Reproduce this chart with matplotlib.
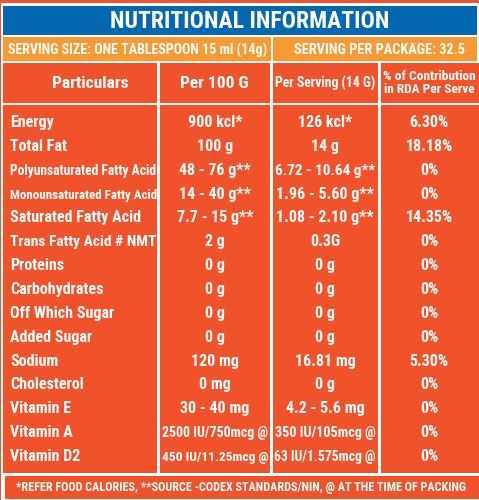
import matplotlib.pyplot as plt
from matplotlib.patches import Rectangle

RED = '#F0532B'
BLUE = '#0468B1'
ORANGE = '#F79A34'

title = 'NUTRITIONAL INFORMATION'
serving_size = 'SERVING SIZE: ONE TABLESPOON 15 ml (14g)'
serving_pack = 'SERVING PER PACKAGE: 32.5'
headers = ['Particulars', 'Per 100 G', 'Per Serving (14 G)', '% of Contribution\nin RDA Per Serve']

particulars = ['Energy', 'Total Fat', 'Polyunsaturated Fatty Acid', 'Monounsaturated Fatty Acid',
               'Saturated Fatty Acid', 'Trans Fatty Acid # NMT', 'Proteins', 'Carbohydrates',
               'Off Which Sugar', 'Added Sugar', 'Sodium', 'Cholesterol', 'Vitamin E',
               'Vitamin A', 'Vitamin D2']
per_100g = ['900 kcl*', '100 g', '48 - 76 g**', '14 - 40 g**', '7.7 - 15 g**', '2 g', '0 g', '0 g',
            '0 g', '0 g', '120 mg', '0 mg', '30 - 40 mg', '2500 IU/750mcg @', '450 IU/11.25mcg @']
per_serving = ['126 kcl*', '14 g', '6.72 - 10.64 g**', '1.96 - 5.60 g**', '1.08 - 2.10 g**', '0.3G',
               '0 g', '0 g', '0 g', '0 g', '16.81 mg', '0 g', '4.2 - 5.6 mg', '350 IU/105mcg @',
               '63 IU/1.575mcg @']
rda = ['6.30%', '18.18%', '0%', '0%', '14.35%', '0%', '0%', '0%', '0%', '0%', '5.30%', '0%', '0%',
       '0%', '0%']
footer = '*REFER FOOD CALORIES, **SOURCE -CODEX STANDARDS/NIN, @ AT THE TIME OF PACKING'

plt.rcParams['font.family'] = ['Roboto Condensed', 'Liberation Sans', 'DejaVu Sans']

fig = plt.figure(figsize=(4.79, 5.0), dpi=100)
fig.patch.set_facecolor(RED)
ax = fig.add_axes([0, 0, 1, 1])
ax.set_xlim(0, 479)
ax.set_ylim(500, 0)
ax.axis('off')
renderer = fig.canvas.get_renderer()


def box(x0, y0, x1, y1, color):
    ax.add_patch(Rectangle((x0, y0), x1 - x0, y1 - y0, facecolor=color, edgecolor='none'))


def fit(x, y, s, maxw, size, **kw):
    # shrink the text until it fits the cell width
    t = ax.text(x, y, s, fontsize=size, color='white', fontweight='bold', **kw)
    w = t.get_window_extent(renderer).width
    if w > maxw:
        t.set_fontsize(size * maxw / w)
    return t


# white frame, then the coloured cells on top of it
box(1, 3, 479, 499.5, 'white')
box(3, 6, 477, 35, BLUE)
box(3, 37, 271, 61, ORANGE)
box(273, 37, 477, 61, ORANGE)
cols = [(3, 157), (160, 270), (273, 378), (381, 479)]
for x0, x1 in cols:
    box(x0, 63, x1, 103, RED)
    box(x0, 105, x1, 473, RED)
box(5, 476, 479, 499, RED)

fit(250, 21, title, 290, 17, ha='center', va='center')
fit(8, 50, serving_size, 260, 12, ha='left', va='center')
fit(380, 50, serving_pack, 170, 12, ha='center', va='center')

hx = [90, 214, 325, 429]
hw = [140, 100, 100, 93]
for x, w, h in zip(hx, hw, headers):
    fit(x, 83, h, w, 12.5, ha='center', va='center', linespacing=0.95)

for i in range(len(particulars)):
    y = 127 + 23.86 * i
    fit(10, y, particulars[i], 147, 11.5, ha='left', va='baseline')
    fit(215, y, per_100g[i], 106, 11.5, ha='center', va='baseline')
    fit(325, y, per_serving[i], 101, 11.5, ha='center', va='baseline')
    fit(429, y, rda[i], 90, 11.5, ha='center', va='baseline')

fit(241, 488, footer, 448, 11, ha='center', va='center')

fig.savefig('out.png', dpi=100, facecolor=RED)
